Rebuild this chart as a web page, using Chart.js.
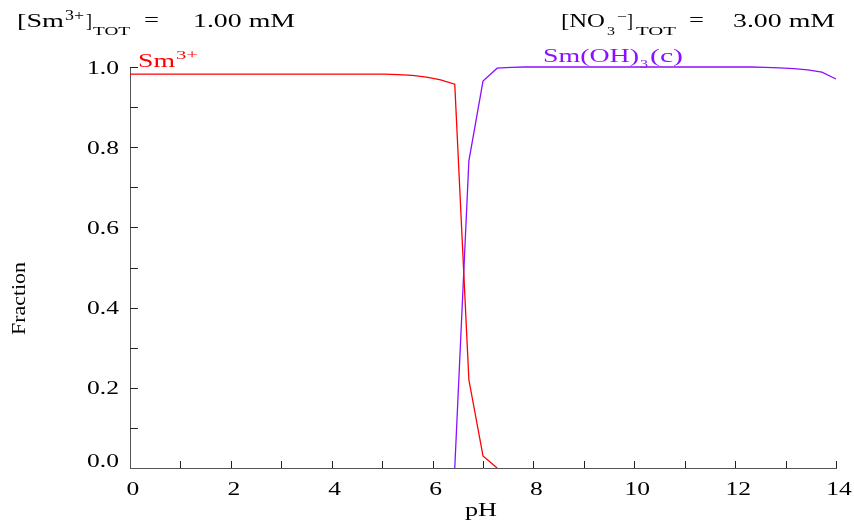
<!DOCTYPE html>
<html>
<head>
<meta charset="utf-8">
<script src="https://cdn.jsdelivr.net/npm/chart.js@4.4.1/dist/chart.umd.min.js"></script>
<style>
  html, body { margin: 0; padding: 0; background: #fff; }
  #wrap { width: 854px; height: 527px; }
</style>
</head>
<body>
<div id="wrap"><canvas id="chart" width="854" height="527"></canvas></div>
<script>
// Sm3+ fraction vs pH
const smPH   = [0, 4.76, 5.04, 5.32, 5.60, 5.88, 6.16, 6.44, 6.72, 7.00, 7.28];
const smFrac = [0.982, 0.982, 0.982, 0.981, 0.979, 0.975, 0.968, 0.957, 0.22, 0.03, 0.0];

// Sm(OH)3(c) fraction vs pH
const ohPH   = [6.44, 6.72, 7.00, 7.28, 7.56, 7.84, 12.32, 12.60, 12.88, 13.16, 13.44, 13.72, 14.0];
const ohFrac = [0.0, 0.766, 0.965, 0.997, 0.999, 1.0, 1.0, 0.999, 0.998, 0.996, 0.993, 0.987, 0.970];

const xTicks = [0, 2, 4, 6, 8, 10, 12, 14];
const yTicks = [0, 0.2, 0.4, 0.6, 0.8, 1.0];

const FONT = '"Liberation Serif", "Times New Roman", serif';
const RED = '#ff0000';
const PURPLE = '#8b10ff';

function toPoints(xs, ys) {
    return xs.map((x, i) => ({ x: x, y: ys[i] }));
}

// draw text squeezed/stretched to a given width
function drawFit(ctx, text, left, baseline, size, width, color) {
    ctx.save();
    ctx.font = size + 'px ' + FONT;
    const w = ctx.measureText(text).width;
    ctx.translate(left, baseline);
    ctx.scale(width / w, 1);
    ctx.fillStyle = color || '#000';
    ctx.textAlign = 'left';
    ctx.textBaseline = 'alphabetic';
    ctx.fillText(text, 0, 0);
    ctx.restore();
}

// draw text with a fixed horizontal stretch, aligned around x
function drawStretch(ctx, text, x, baseline, size, sx, align, color) {
    ctx.save();
    ctx.font = size + 'px ' + FONT;
    const w = ctx.measureText(text).width * sx;
    let left = x;
    if (align === 'center') left = x - w / 2;
    else if (align === 'right') left = x - w;
    ctx.translate(left, baseline);
    ctx.scale(sx, 1);
    ctx.fillStyle = color || '#000';
    ctx.textAlign = 'left';
    ctx.textBaseline = 'alphabetic';
    ctx.fillText(text, 0, 0);
    ctx.restore();
}

const decorPlugin = {
    id: 'decor',
    afterDraw(chart) {
        const ctx = chart.ctx;
        const xs = chart.scales.x;
        const ys = chart.scales.y;
        const area = chart.chartArea;

        // inward tick marks
        ctx.save();
        ctx.strokeStyle = '#222';
        ctx.lineWidth = 1;
        ctx.beginPath();
        for (let v = 1; v <= 14; v++) {
            const px = Math.round(xs.getPixelForValue(v)) + 0.5;
            ctx.moveTo(px, area.bottom);
            ctx.lineTo(px, area.bottom - 7);
        }
        for (let i = 1; i <= 10; i++) {
            const py = Math.round(ys.getPixelForValue(i / 10)) + 0.5;
            ctx.moveTo(area.left, py);
            ctx.lineTo(area.left + 8, py);
        }
        ctx.stroke();
        ctx.restore();

        // tick labels
        const tickSize = 18.5, tickSx = 1.38;
        xTicks.forEach(v => {
            drawStretch(ctx, String(v), xs.getPixelForValue(v) + 3, 495, tickSize, tickSx, 'center');
        });
        yTicks.forEach(v => {
            const py = ys.getPixelForValue(v);
            const base = v === 0 ? 467 : py + 6.5;
            drawStretch(ctx, v.toFixed(1), 119, base, tickSize, tickSx, 'right');
        });

        // axis titles
        drawFit(ctx, 'pH', 465, 516, 18.5, 32);
        ctx.save();
        ctx.translate(25, 335);
        ctx.rotate(-Math.PI / 2);
        drawFit(ctx, 'Fraction', 0, 0, 18, 73);
        ctx.restore();

        // header: [Sm3+]TOT = 1.00 mM
        drawFit(ctx, '[Sm', 17, 27, 18, 47);
        drawFit(ctx, '3+', 65, 20, 14, 19);
        drawFit(ctx, ']', 86, 27, 18, 6);
        drawFit(ctx, 'TOT', 93, 34.5, 13, 37);
        drawFit(ctx, '=', 144, 26, 18, 15);
        drawFit(ctx, '1.00 mM', 193, 27, 18, 102);

        // header: [NO3-]TOT = 3.00 mM
        drawFit(ctx, '[NO', 561, 27, 18, 44);
        drawFit(ctx, '3', 607, 34.5, 13, 8);
        drawFit(ctx, '\u2013', 618, 19, 12, 8);
        drawFit(ctx, ']', 627, 27, 18, 6);
        drawFit(ctx, 'TOT', 636, 34.5, 13, 40);
        drawFit(ctx, '=', 689, 26, 18, 15);
        drawFit(ctx, '3.00 mM', 733, 27, 18, 102);

        // series labels
        drawFit(ctx, 'Sm', 138, 67, 18, 37, RED);
        drawFit(ctx, '3+', 176, 59, 13, 22, RED);
        drawFit(ctx, 'Sm(OH)', 543, 62, 18, 96, PURPLE);
        drawFit(ctx, '3', 640, 68, 13, 8, PURPLE);
        drawFit(ctx, '(c)', 650, 62, 18, 33, PURPLE);
    }
};

const ctx = document.getElementById('chart').getContext('2d');

new Chart(ctx, {
    type: 'line',
    data: {
        datasets: [{
            label: 'Sm3+',
            data: toPoints(smPH, smFrac),
            borderColor: RED,
            borderWidth: 1.3,
            pointRadius: 0,
            tension: 0,
            clip: 4
        }, {
            label: 'Sm(OH)3(c)',
            data: toPoints(ohPH, ohFrac),
            borderColor: PURPLE,
            borderWidth: 1.3,
            pointRadius: 0,
            tension: 0,
            clip: 4
        }]
    },
    options: {
        responsive: false,
        animation: false,
        devicePixelRatio: 1,
        layout: {
            padding: { left: 0, right: 18, top: 67, bottom: 0 }
        },
        plugins: {
            legend: { display: false },
            tooltip: { enabled: false }
        },
        scales: {
            x: {
                type: 'linear',
                min: 0,
                max: 14,
                grid: { display: false, drawTicks: false },
                border: { display: true, color: '#555', width: 1 },
                ticks: { display: false },
                afterFit: scale => { scale.height = 59; }
            },
            y: {
                type: 'linear',
                min: 0,
                max: 1,
                grid: { display: false, drawTicks: false },
                border: { display: true, color: '#555', width: 1 },
                ticks: { display: false },
                afterFit: scale => { scale.width = 130; }
            }
        }
    },
    plugins: [decorPlugin]
});
</script>
</body>
</html>
